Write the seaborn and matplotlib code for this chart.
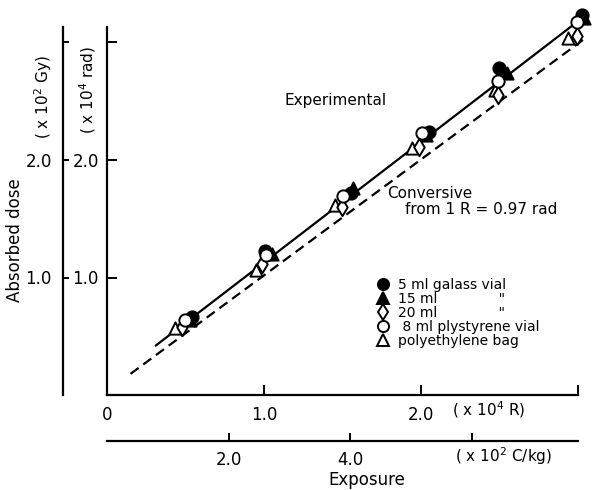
import matplotlib
matplotlib.use("Agg")
import matplotlib.pyplot as plt
from matplotlib.lines import Line2D
import seaborn as sns
import pandas as pd

# ---- data (x: exposure, x10^4 R ; y: absorbed dose, x10^4 rad) ----
glass5_x = [0.541, 1.006, 1.554, 2.051, 2.497, 3.025]
glass5_y = [0.664, 1.226, 1.719, 2.238, 2.783, 3.234]
glass15_x = [0.530, 1.051, 1.567, 2.030, 2.548, 3.038]
glass15_y = [0.640, 1.200, 1.762, 2.210, 2.740, 3.209]
glass20_x = [0.478, 0.987, 1.497, 1.987, 2.490, 2.994]
glass20_y = [0.579, 1.115, 1.600, 2.111, 2.553, 3.055]
ps8_x = [0.497, 1.013, 1.503, 2.006, 2.490, 2.994]
ps8_y = [0.638, 1.191, 1.694, 2.230, 2.672, 3.174]
pebag_x = [0.433, 0.949, 1.452, 1.943, 2.471, 2.936]
pebag_y = [0.570, 1.064, 1.617, 2.102, 2.596, 3.038]

exp_line_x = [0.31, 2.97]
exp_line_y = [0.42, 3.15]
conv_line_x = [0.15, 3.04]
conv_line_y = [0.18, 3.03]

series_labels = ["5 ml galass vial", "15 ml              \"", "20 ml              \"",
                 " 8 ml plystyrene vial", "polyethylene bag"]
x_ticks = [0, 1.0, 2.0, 3.0]
x_ticklabels = ["0", "1.0", "2.0", ""]
y_ticks = [1.0, 2.0, 3.0]
y_ticklabels = ["1.0", "2.0", ""]
ckg_ticks = [2.0, 4.0, 6.0]
ckg_ticklabels = ["2.0", "4.0", ""]
R_TO_CKG = 2.58

sns.set_theme(style="ticks")
plt.rcParams['font.family'] = ['DejaVu Sans']
plt.rcParams['text.color'] = 'black'
plt.rcParams['axes.labelcolor'] = 'black'
plt.rcParams['xtick.color'] = 'black'
plt.rcParams['ytick.color'] = 'black'
plt.rcParams['legend.labelcolor'] = 'black'

fig = plt.figure(figsize=(6.03, 4.90), dpi=100)
W, H = 603, 490
x0px, y0px = 107, 395
pxx, pxy = 157, 117.5
xmax, ymax = 3.08, 3.32
ax = fig.add_axes([x0px / W, (H - y0px) / H, xmax * pxx / W, ymax * pxy / H])
ax.set_facecolor("white")

# lines
sns.lineplot(x=exp_line_x, y=exp_line_y, ax=ax, color="black", lw=1.6, zorder=2)
sns.lineplot(x=conv_line_x, y=conv_line_y, ax=ax, color="black", lw=1.6,
             zorder=2).lines[-1].set_dashes((4.5, 2.6))

ms = 78
common = dict(ax=ax, edgecolor="black", linewidth=1.4, s=ms, legend=False, clip_on=False)
sns.scatterplot(x=glass5_x, y=glass5_y, marker="o", color="black", zorder=3, **common)
sns.scatterplot(x=glass15_x, y=glass15_y, marker="^", color="black", zorder=3, **common)
sns.scatterplot(x=pebag_x, y=pebag_y, marker="^", color="white", zorder=4, **common)
sns.scatterplot(x=glass20_x, y=glass20_y, marker="d", color="white", zorder=5, **common)
sns.scatterplot(x=ps8_x, y=ps8_y, marker="o", color="white", zorder=6, **common)

ax.set_xlim(0, xmax)
ax.set_ylim(0, ymax)
for s in ["top", "right"]:
    ax.spines[s].set_visible(False)
for s in ["left", "bottom"]:
    ax.spines[s].set_linewidth(1.6)
    ax.spines[s].set_color("black")
ax.spines["left"].set_bounds(0, 3.13)
ax.spines["bottom"].set_bounds(0, 3.0)

ax.set_xticks(x_ticks)
ax.set_xticklabels(x_ticklabels)
ax.set_yticks(y_ticks)
ax.set_yticklabels(y_ticklabels)
ax.tick_params(axis="both", direction="in", length=7, width=1.4, labelsize=12,
               color="black", labelcolor="black")
ax.tick_params(axis="x", pad=8)
ax.tick_params(axis="y", pad=6)

# secondary Gy axis
secy = ax.secondary_yaxis(-44 / (xmax * pxx))
secy.set_yticks(y_ticks)
secy.set_yticklabels(y_ticklabels)
secy.tick_params(direction="in", length=4, width=1.4, labelsize=12, pad=8,
                 color="black", labelcolor="black")
secy.spines["left"].set_linewidth(1.6)
secy.spines["left"].set_color("black")
secy.spines["left"].set_bounds(0, 3.13)

# secondary C/kg axis
secx = ax.secondary_xaxis(-46 / (ymax * pxy),
                          functions=(lambda v: v * R_TO_CKG, lambda v: v / R_TO_CKG))
secx.set_xticks(ckg_ticks)
secx.set_xticklabels(ckg_ticklabels)
secx.tick_params(direction="in", length=6, width=1.4, labelsize=12, pad=7,
                 color="black", labelcolor="black")
secx.spines["bottom"].set_linewidth(1.6)
secx.spines["bottom"].set_color("black")
secx.spines["bottom"].set_bounds(0, 3.0 * R_TO_CKG)

# legend
def handle(marker, face):
    return Line2D([], [], ls="none", marker=marker, markersize=8.0, markerfacecolor=face,
                  markeredgecolor="black", markeredgewidth=1.4)

handles = [handle("o", "black"), handle("^", "black"), handle("d", "white"),
           handle("o", "white"), handle("^", "white")]
leg = ax.legend(handles, series_labels, loc="upper left",
                bbox_to_anchor=((376 - x0px) / pxx, (y0px - 278) / pxy),
                bbox_transform=ax.transData, frameon=False, fontsize=10,
                labelspacing=0.0, handlelength=1.0, handletextpad=0.6,
                borderpad=0, borderaxespad=0, labelcolor="black")

# annotations
ax.text((285 - x0px) / pxx, (y0px - 100) / pxy, "Experimental", fontsize=11,
        ha="left", va="center", color="black")
ax.text((387 - x0px) / pxx, (y0px - 193) / pxy, "Conversive", fontsize=11,
        ha="left", va="center", color="black")
ax.text((405 - x0px) / pxx, (y0px - 210) / pxy, "from 1 R = 0.97 rad", fontsize=11,
        ha="left", va="center", color="black")

fig.text(452 / W, 1 - 410 / H, "( x 10$^4$ R)", fontsize=11, ha="left", va="center",
         color="black")
fig.text(455 / W, 1 - 456 / H, "( x 10$^2$ C/kg)", fontsize=11, ha="left", va="center",
         color="black")
fig.text(367 / W, 1 - 480 / H, "Exposure", fontsize=12, ha="center", va="center",
         color="black")
fig.text(15 / W, 1 - 240 / H, "Absorbed dose", fontsize=12, ha="center", va="center",
         rotation=90, color="black")
fig.text(43 / W, 1 - 97 / H, "( x 10$^2$ Gy)", fontsize=11, ha="center", va="center",
         rotation=90, color="black")
fig.text(88 / W, 1 - 90 / H, "( x 10$^4$ rad)", fontsize=11, ha="center", va="center",
         rotation=90, color="black")

fig.savefig("out.png", dpi=100, facecolor="white")
